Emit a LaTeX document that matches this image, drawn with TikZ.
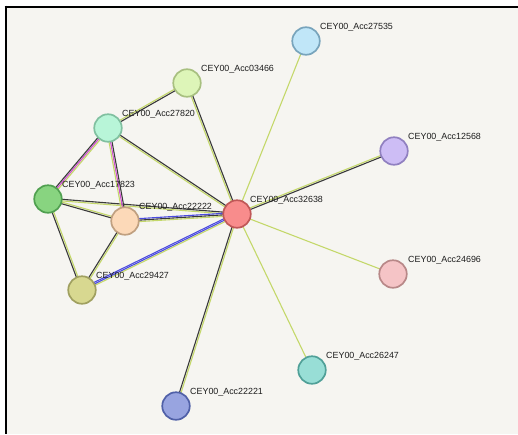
\documentclass[tikz,border=0pt]{standalone}
\usepackage{fontspec}
\setmainfont{Liberation Sans}
\usetikzlibrary{calc}
\definecolor{bgc}{HTML}{F6F5F1}
\definecolor{yg}{HTML}{C4D86A}
\definecolor{dk}{HTML}{3A3A3A}
\definecolor{bl}{HTML}{4A4AE0}
\definecolor{mg}{HTML}{D050D0}
\definecolor{txt}{HTML}{1E1E1E}
\pgfdeclarelayer{bglayer}
\pgfdeclarelayer{edgelayer}
\pgfsetlayers{bglayer,edgelayer,main}
\tikzset{
  pnode/.style={circle, minimum size=27.5, inner sep=0pt, line width=1.7pt},
  lbl/.style={anchor=base west, inner sep=0pt, font=\fontsize{8.9}{10}\selectfont, text=txt},
  eline/.style={line width=1.1pt},
}
\newcommand\offline[4]{\draw[eline,#4] ($(#1.center)!#3!90:(#2.center)$) -- ($(#2.center)!#3!-90:(#1.center)$);}
\newcommand\edgeone[2]{\offline{#1}{#2}{0pt}{yg}}
\newcommand\edgetwo[2]{\offline{#1}{#2}{0.8pt}{yg}\offline{#1}{#2}{-0.8pt}{dk}}
\newcommand\edgethree[5]{\offline{#1}{#2}{1.5pt}{#3}\offline{#1}{#2}{0pt}{#4}\offline{#1}{#2}{-1.5pt}{#5}}
\begin{document}
\begin{tikzpicture}[x=1pt,y=-1pt]
\useasboundingbox (0,0) rectangle (518,434);
\begin{pgfonlayer}{bglayer}
\fill[white] (0,0) rectangle (518,434);
\fill[bgc] (6,7) rectangle (518,434);
\draw[black, line width=2pt] (4.5,6.5) -- (518,6.5);
\draw[black, line width=2pt] (5.5,5.5) -- (5.5,434);
\end{pgfonlayer}
% nodes
\node[pnode, fill={rgb,255:red,192;green,230;blue,248}, draw={rgb,255:red,120;green,164;blue,188}] (n27535) at (306,41) {};
\node[pnode, fill={rgb,255:red,221;green,245;blue,184}, draw={rgb,255:red,168;green,192;blue,128}] (n03466) at (187,83) {};
\node[pnode, fill={rgb,255:red,184;green,245;blue,216}, draw={rgb,255:red,128;green,192;blue,160}] (n27820) at (108,128) {};
\node[pnode, fill={rgb,255:red,205;green,189;blue,245}, draw={rgb,255:red,144;green,128;blue,192}] (n12568) at (394,151) {};
\node[pnode, fill={rgb,255:red,136;green,212;blue,128}, draw={rgb,255:red,80;green,160;blue,80}] (n17823) at (48,199) {};
\node[pnode, fill={rgb,255:red,252;green,217;blue,184}, draw={rgb,255:red,192;green,160;blue,128}] (n22222) at (125,221) {};
\node[pnode, fill={rgb,255:red,248;green,140;blue,140}, draw={rgb,255:red,192;green,88;blue,88}] (n32638) at (237,214) {};
\node[pnode, fill={rgb,255:red,245;green,196;blue,198}, draw={rgb,255:red,184;green,136;blue,136}] (n24696) at (393,274) {};
\node[pnode, fill={rgb,255:red,216;green,216;blue,144}, draw={rgb,255:red,160;green,160;blue,96}] (n29427) at (82,290) {};
\node[pnode, fill={rgb,255:red,152;green,222;blue,214}, draw={rgb,255:red,80;green,160;blue,152}] (n26247) at (312,370) {};
\node[pnode, fill={rgb,255:red,152;green,164;blue,224}, draw={rgb,255:red,80;green,96;blue,168}] (n22221) at (176,406) {};
% labels
\node[lbl] (l27535) at ($(n27535.center)+(14,-12)$) {CEY00\_Acc27535};
\node[lbl] (l03466) at ($(n03466.center)+(14,-12)$) {CEY00\_Acc03466};
\node[lbl] (l27820) at ($(n27820.center)+(14,-12)$) {CEY00\_Acc27820};
\node[lbl] (l12568) at ($(n12568.center)+(14,-12)$) {CEY00\_Acc12568};
\node[lbl] (l17823) at ($(n17823.center)+(14,-12)$) {CEY00\_Acc17823};
\node[lbl] (l22222) at ($(n22222.center)+(14,-12)$) {CEY00\_Acc22222};
\node[lbl] (l32638) at ($(n32638.center)+(13,-12)$) {CEY00\_Acc32638};
\node[lbl] (l24696) at ($(n24696.center)+(15,-12)$) {CEY00\_Acc24696};
\node[lbl] (l29427) at ($(n29427.center)+(14,-12)$) {CEY00\_Acc29427};
\node[lbl] (l26247) at ($(n26247.center)+(14,-12)$) {CEY00\_Acc26247};
\node[lbl] (l22221) at ($(n22221.center)+(14,-12)$) {CEY00\_Acc22221};
% edges
\begin{pgfonlayer}{edgelayer}
\edgeone{n32638}{n27535}
\edgeone{n32638}{n24696}
\edgeone{n32638}{n26247}
\edgetwo{n32638}{n12568}
\edgetwo{n32638}{n22221}
\edgetwo{n32638}{n03466}
\edgetwo{n32638}{n27820}
\edgetwo{n32638}{n17823}
\edgethree{n32638}{n22222}{yg}{dk}{bl}
\edgethree{n32638}{n29427}{yg}{bl}{bl}
\edgetwo{n27820}{n03466}
\edgethree{n27820}{n17823}{yg}{mg}{dk}
\edgethree{n27820}{n22222}{dk}{mg}{yg}
\edgetwo{n17823}{n22222}
\edgetwo{n17823}{n29427}
\edgetwo{n22222}{n29427}
\end{pgfonlayer}
\end{tikzpicture}
\end{document}
